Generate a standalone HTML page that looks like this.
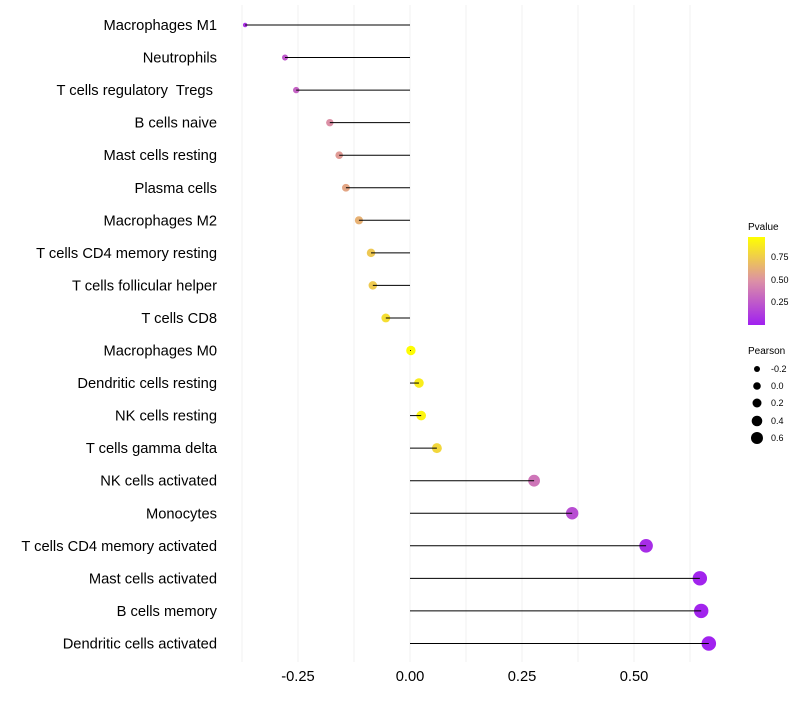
<!DOCTYPE html>
<html><head><meta charset="utf-8"><style>
body{margin:0;background:#fff;font-family:"Liberation Sans",sans-serif}
text{white-space:pre}
</style></head><body>
<svg id="chart" width="800" height="700" xmlns="http://www.w3.org/2000/svg">
<defs><linearGradient id="pg" x1="0" y1="1" x2="0" y2="0">
<stop offset="0" stop-color="#a020f0"/><stop offset="0.5" stop-color="#dc90a6"/><stop offset="1" stop-color="#ffff00"/>
</linearGradient></defs>
<g id="grid"></g><g id="marks"></g><g id="labels"></g>
<g font-size="9" fill="#000">
<text x="748" y="230" font-size="10">Pvalue</text>
<rect x="748" y="237" width="17" height="88" fill="url(#pg)"/>
<text x="771" y="260">0.75</text>
<text x="771" y="283">0.50</text>
<text x="771" y="305">0.25</text>
</g>
<g font-size="9" fill="#000">
<text x="748" y="354" font-size="10">Pearson</text>
<circle cx="757" cy="369" r="3"/><text x="771" y="372">-0.2</text>
<circle cx="757" cy="386" r="3.8"/><text x="771" y="389">0.0</text>
<circle cx="757" cy="403" r="4.5"/><text x="771" y="406">0.2</text>
<circle cx="757" cy="421" r="5.3"/><text x="771" y="424">0.4</text>
<circle cx="757" cy="438" r="6"/><text x="771" y="441">0.6</text>
</g>
</svg>
<script>
const categories=["Macrophages M1","Neutrophils","T cells regulatory  Tregs ","B cells naive","Mast cells resting","Plasma cells","Macrophages M2","T cells CD4 memory resting","T cells follicular helper","T cells CD8","Macrophages M0","Dendritic cells resting","NK cells resting","T cells gamma delta","NK cells activated","Monocytes","T cells CD4 memory activated","Mast cells activated","B cells memory","Dendritic cells activated"];
const pearson=[-0.368,-0.279,-0.254,-0.179,-0.158,-0.143,-0.114,-0.087,-0.083,-0.054,0.002,0.02,0.025,0.06,0.277,0.362,0.527,0.647,0.65,0.667];
const pvalue=[0.08,0.25,0.3,0.5,0.55,0.6,0.65,0.75,0.76,0.85,0.99,0.92,0.95,0.82,0.38,0.2,0.06,0.02,0.02,0.01];
const xTicks=[-0.25,0,0.25,0.5];
const xTickLabels=["-0.25","0.00","0.25","0.50"];
const NS="http://www.w3.org/2000/svg";
const x=v=>410+v*448;
const y=i=>25+i*32.55;
const r=v=>Math.sqrt(5+46*(v+0.368));
function lerp(a,b,t){return a.map((c,i)=>Math.round(c+(b[i]-c)*t));}
function col(p){const lo=[160,32,240],mid=[220,144,166],hi=[255,255,0];
 const c=p<0.5?lerp(lo,mid,p/0.5):lerp(mid,hi,(p-0.5)/0.5);return `rgb(${c})`;}
function mk(t,a,parent){const e=document.createElementNS(NS,t);for(const k in a)e.setAttribute(k,a[k]);parent.appendChild(e);return e;}
const grid=document.getElementById('grid'),marks=document.getElementById('marks'),labels=document.getElementById('labels');
for(let v=-0.375;v<=0.626;v+=0.125){
 const g=mk('line',{x1:x(v),x2:x(v),y1:5,y2:662,stroke:'#f2f2f2','stroke-width':1},grid);
 
 
}
xTicks.forEach((v,i)=>{
 const t=mk('text',{x:x(v),y:681,'text-anchor':'middle','font-size':14.7,fill:'#000'},labels);
 t.textContent=xTickLabels[i];
 
 
});
categories.forEach((c,i)=>{
 const t=mk('text',{x:217,y:y(i)+5,'text-anchor':'end','font-size':14.7,fill:'#000'},labels);
 t.textContent=c;
 
 
 const d=mk('circle',{cx:x(pearson[i]),cy:y(i),r:r(pearson[i]),fill:col(pvalue[i])},marks);
 
 
 const l=mk('line',{x1:x(0),x2:x(pearson[i]),y1:y(i),y2:y(i),stroke:'#000','stroke-width':1},marks);
 
 
});
</script>
</body></html>
